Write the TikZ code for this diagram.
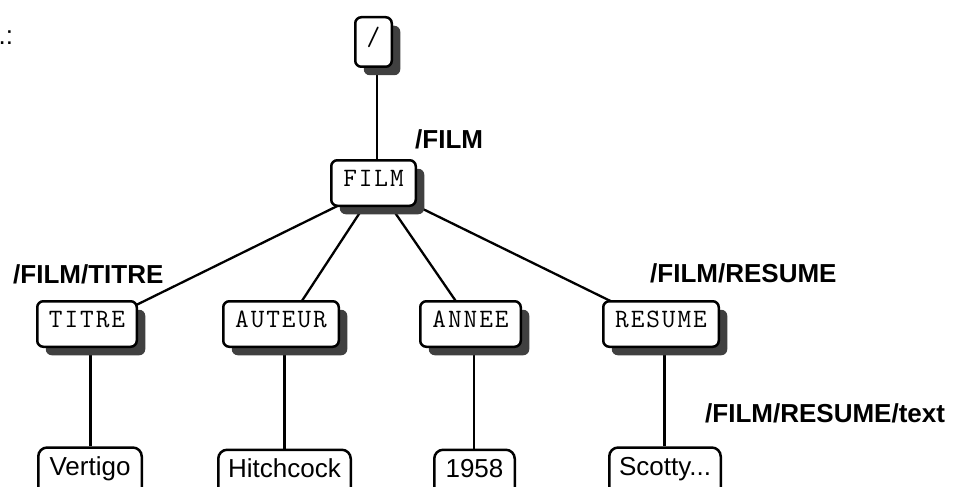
\documentclass[tikz,border=0pt]{standalone}
\usepackage{fontspec}
\setmainfont{Liberation Sans}
\usetikzlibrary{shadows,backgrounds}
\definecolor{shadowgray}{HTML}{404040}
\newcommand{\monosized}{\ttfamily\fontsize{26.5}{26.5}\selectfont}
\def\spreadit#1{\spreadloop#1\relax}
\def\spreadloop#1{\ifx#1\relax\else\makebox[15.6pt][c]{#1}\expandafter\spreadloop\fi}
\begin{document}
\begin{tikzpicture}[x=1pt,y=-1pt,
 elem/.style={draw=black, line width=2.5pt, fill=white, rounded corners=6pt, inner sep=0pt,
   minimum height=45.5pt, font=\monosized, text height=15pt, text depth=8pt,
   drop shadow={shadow xshift=8.5pt, shadow yshift=-8.5pt, fill=shadowgray, opacity=1}},
 leaf/.style={draw=black, line width=2.5pt, fill=white, rounded corners=9pt, inner xsep=0pt,
   inner ysep=8.5pt, anchor=north, font=\fontsize{26}{26}\selectfont, text height=19pt, text depth=40pt},
 conn/.style={line width=2.3pt},
 pathlbl/.style={font=\bfseries\fontsize{26}{26}\selectfont, anchor=base west, inner sep=0pt}
]
\useasboundingbox (0,0) rectangle (959,487);
\clip (0,0) rectangle (959,487);

% element nodes
\node[elem, minimum width=36.5pt, minimum height=49.5pt] (root) at (373.5,42) {/};
\node[elem, minimum width=84.5pt] (film) at (373.5,183) {\spreadit{FILM}};
\node[elem, minimum width=99.5pt] (titre) at (87,324) {\spreadit{TITRE}};
\node[elem, minimum width=115.5pt] (auteur) at (281,324) {\spreadit{AUTEUR}};
\node[elem, minimum width=100.5pt] (annee) at (470.5,324) {\spreadit{ANNEE}};
\node[elem, minimum width=115.5pt] (resume) at (661,324) {\spreadit{RESUME}};

% text leaves
\node[leaf, minimum width=103.5pt] (vertigo) at (90,446.25) {Vertigo};
\node[leaf, minimum width=132.5pt] (hitch) at (284.5,448.5) {Hitchcock};
\node[leaf, minimum width=80.5pt] (year) at (474.5,448.5) {1958};
\node[leaf, minimum width=111.5pt] (scotty) at (665,446.25) {Scotty...};

% path labels
\node[pathlbl] (lfilm) at (415,148.5) {/FILM};
\node[pathlbl] (ltitre) at (13,283) {/FILM/TITRE};
\node[pathlbl] (lresume) at (650,282.5) {/FILM/RESUME};
\begin{scope}
\clip (0,0) rectangle (944,487);
\node[pathlbl] (ltext) at (705,422.5) {/FILM/RESUME/text};
\end{scope}
\node[font=\fontsize{26}{26}\selectfont, anchor=base east, inner sep=0pt] (ex) at (13.3,45) {.:};

% connectors
\coordinate (croot) at ([shift={(3.5,3.5)}]root.center);
\coordinate (cfilm) at ([shift={(3.5,3.5)}]film.center);
\coordinate (ctitre) at ([shift={(3.5,3.5)}]titre.center);
\coordinate (cauteur) at ([shift={(3.5,3.5)}]auteur.center);
\coordinate (cannee) at ([shift={(3.5,3.5)}]annee.center);
\coordinate (cresume) at ([shift={(3.5,3.5)}]resume.center);
\begin{scope}[on background layer]
\draw[conn] (croot) -- (cfilm);
\draw[conn] (cfilm) -- (ctitre);
\draw[conn] (cfilm) -- (cauteur);
\draw[conn] (cfilm) -- (cannee);
\draw[conn] (cfilm) -- (cresume);
\draw[conn] (ctitre) -- (ctitre |- vertigo.north);
\draw[conn] (cauteur) -- (cauteur |- hitch.north);
\draw[conn] (cannee) -- (cannee |- year.north);
\draw[conn] (cresume) -- (cresume |- scotty.north);
\end{scope}
\end{tikzpicture}
\end{document}
